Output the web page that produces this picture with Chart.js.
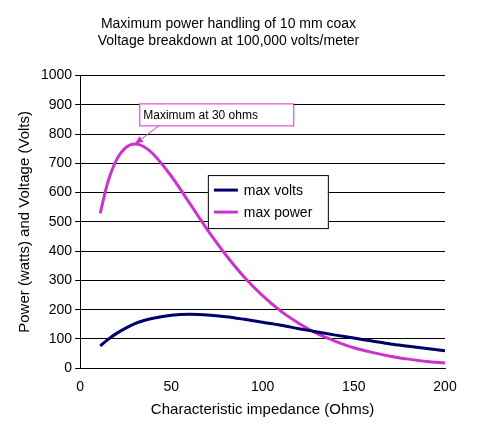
<!DOCTYPE html>
<html><head><meta charset="utf-8">
<script src="https://cdn.jsdelivr.net/npm/chart.js@4/dist/chart.umd.min.js"></script>
<style>html,body{margin:0;background:#fff}#w{width:503px;height:431px}</style>
</head><body><div id="w"><canvas id="c"></canvas></div>
<script>
const impedance=[11,15,20,25,30,35,40,50,60,70,80,90,100,110,120,130,140,150,160,170,180,190,200];
const maxVolts=[76,97,119,137,152,163,171,181,184,182,176,167,157,147,135,124,113,103,93,83,75,67,60];
const maxPower=[529,632,713,754,766,757,732,656,564,471,386,311,248,195,153,118,92,70,54,41,31,23,18];
const seriesNames=['max volts','max power'];
const titleLines=['Maximum power handling of 10 mm coax','Voltage breakdown at 100,000 volts/meter'];
const annText='Maximum at 30 ohms';
const FONT='"Liberation Sans", Arial, sans-serif';
const extras={id:'extras',afterDraw(ch){
  const c=ch.ctx,x=ch.scales.x,y=ch.scales.y;
  c.save();
  const bx=x.getPixelForValue(32.4),by=y.getPixelForValue(905);
  const bw=154,bh=22;
  c.strokeStyle='#cc33cc';c.lineWidth=1;c.fillStyle='#fff';
  c.fillRect(bx,by,bw,bh);c.strokeRect(bx+0.5,by+0.5,bw,bh);
  c.fillStyle='#000';c.font='12px '+FONT;c.textBaseline='middle';
  c.fillText(annText,bx+4,by+bh/2+1);
  const px=x.getPixelForValue(30),py=y.getPixelForValue(766);
  const sx=bx+20,sy=by+bh;
  c.strokeStyle='#cc33cc';c.beginPath();c.moveTo(sx,sy);c.lineTo(px,py);c.stroke();
  const ang=Math.atan2(py-sy,px-sx);
  c.fillStyle='#cc33cc';c.beginPath();c.moveTo(px,py);
  c.lineTo(px-9*Math.cos(ang-0.4),py-9*Math.sin(ang-0.4));
  c.lineTo(px-9*Math.cos(ang+0.4),py-9*Math.sin(ang+0.4));c.closePath();c.fill();
  const lx=x.getPixelForValue(70),ly=y.getPixelForValue(660);
  const lw=120,lh=53;
  c.fillStyle='#fff';c.fillRect(lx,ly,lw,lh);
  c.strokeStyle='#000';c.strokeRect(lx+0.5,ly+0.5,lw,lh);
  const cols=['#000066','#cc33cc'];
  c.font='14px '+FONT;
  for(let i=0;i<2;i++){
    const yy=ly+15+i*22;
    c.strokeStyle=cols[i];c.lineWidth=3;c.beginPath();c.moveTo(lx+6,yy);c.lineTo(lx+30,yy);c.stroke();
    c.fillStyle='#000';c.fillText(seriesNames[i],lx+36,yy+1);
  }
  c.restore();
}};
new Chart(document.getElementById('c'),{
  type:'line',
  data:{datasets:[
    {label:seriesNames[0],data:impedance.map((v,i)=>({x:v,y:maxVolts[i]})),borderColor:'#000066',borderWidth:3,pointRadius:0,cubicInterpolationMode:'monotone'},
    {label:seriesNames[1],data:impedance.map((v,i)=>({x:v,y:maxPower[i]})),borderColor:'#cc33cc',borderWidth:3,pointRadius:0,cubicInterpolationMode:'monotone'}
  ]},
  options:{responsive:true,maintainAspectRatio:false,animation:false,
    layout:{padding:{left:12,right:58,top:4,bottom:8}},
    plugins:{legend:{display:false},tooltip:{enabled:false},
      title:{display:true,text:titleLines,color:'#000',font:{family:FONT,size:14,weight:'normal'},padding:{top:12,bottom:26},lineHeight:1.25}},
    scales:{
      x:{type:'linear',min:0,max:200,ticks:{stepSize:50,color:'#000',font:{family:FONT,size:14}},
        grid:{display:false,drawTicks:true},border:{color:'#000'},
        title:{display:true,text:'Characteristic impedance (Ohms)',color:'#000',font:{family:FONT,size:15},padding:{top:2}}},
      y:{min:0,max:1000,ticks:{stepSize:100,color:'#000',font:{family:FONT,size:14},callback:v=>String(v)},
        grid:{color:'#000',lineWidth:1,tickLength:5},border:{color:'#000'},
        title:{display:true,text:'Power (watts) and Voltage (Volts)',color:'#000',font:{family:FONT,size:15},padding:{bottom:4}}}
    }},
  plugins:[extras]
});
</script></body></html>
